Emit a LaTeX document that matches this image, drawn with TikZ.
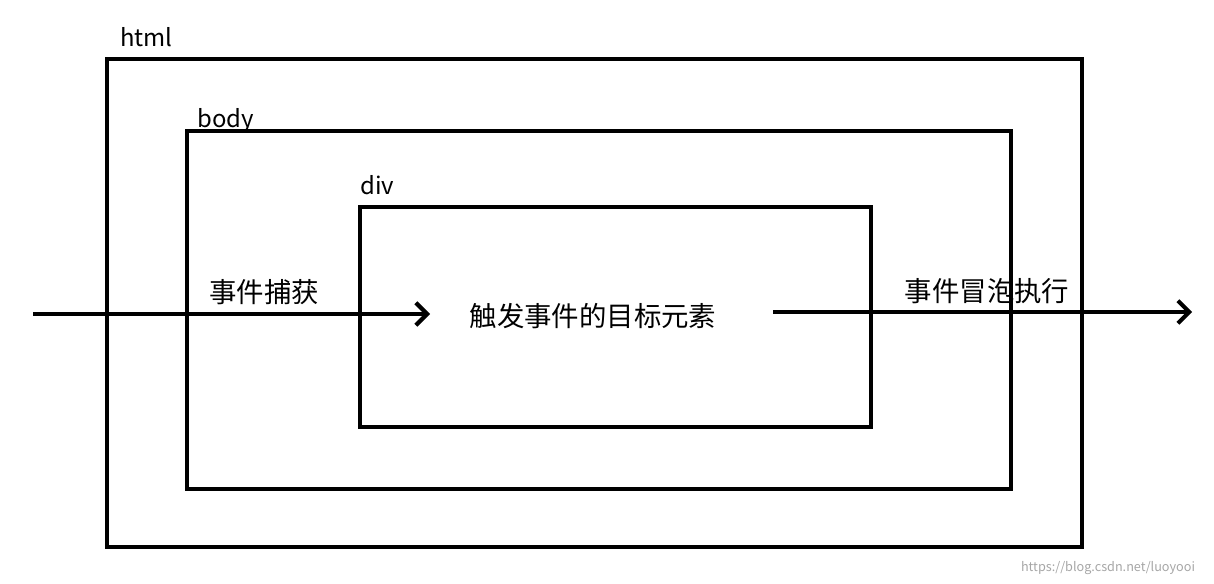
\documentclass[tikz,border=0pt]{standalone}
\usepackage{fontspec}
\setmainfont{Noto Sans CJK SC}
\usetikzlibrary{arrows.meta}
\tikzset{
  frame/.style={line width=2.9pt},
  tag/.style={anchor=base west,inner sep=0pt,font=\fontsize{17}{20}\selectfont},
  flow/.style={line width=2.9pt,-{Straight Barb[length=8pt,width=16pt,line width=2.9pt]}},
  word/.style={inner sep=0pt,font=\fontsize{19.5}{22}\selectfont}
}
\begin{document}
\begin{tikzpicture}[x=0.025cm,y=-0.025cm]
  \useasboundingbox (0,0) rectangle (1214,584);
  % nested boxes
  \draw[frame] (107,59) rectangle (1082,547);
  \draw[frame] (187,131) rectangle (1011,489);
  \draw[frame] (360,207) rectangle (871,427);
  \node[tag] (html) at (120,47) {html};
  \node[tag] (body) at (197,128) {body};
  \node[tag] (div) at (360,194) {div};
  % event flow
  \coordinate (start) at (33,314);
  \coordinate (target) at (430,314);
  \coordinate (leave) at (773,312);
  \coordinate (stop) at (1192,312);
  \draw[flow] (start) -- (target);
  \draw[flow] (leave) -- (stop);
  \node[word] (capture) at (264,292) {事件捕获};
  \node[word] (goal) at (593,316) {触发事件的目标元素};
  \node[word] (bubble) at (987,291) {事件冒泡执行};
  \node[text=gray!70,font=\fontsize{9}{10}\selectfont,inner sep=0pt] (mark) at (1108,568) {https://blog.csdn.net/luoyooi};
\end{tikzpicture}
\end{document}
